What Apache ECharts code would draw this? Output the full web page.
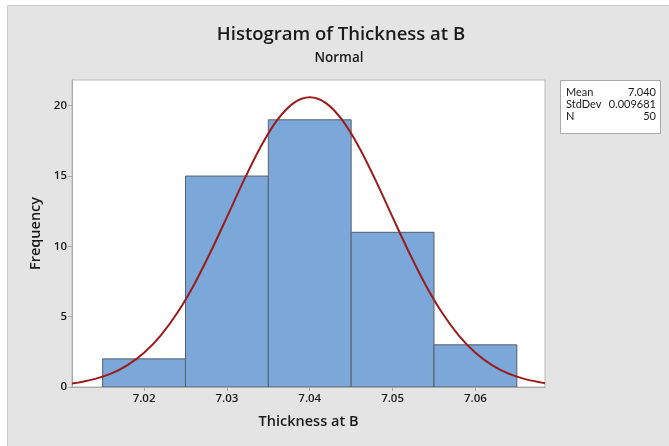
<!DOCTYPE html>
<html>
<head>
<meta charset="utf-8">
<script src="https://cdn.jsdelivr.net/npm/echarts@6/dist/echarts.min.js"></script>
<style>
html,body{margin:0;padding:0;background:#ffffff;}
#chart{width:669px;height:446px;}
</style>
</head>
<body>
<div id="chart"></div>
<script>
// ---- data ----
const binStarts = [7.015, 7.025, 7.035, 7.045, 7.055];
const binEnds   = [7.025, 7.035, 7.045, 7.055, 7.065];
const counts    = [2, 15, 19, 11, 3];

// fitted normal curve
const curveX = [7.0113, 7.012, 7.014, 7.016, 7.018, 7.020, 7.022, 7.024, 7.026, 7.028, 7.030, 7.032, 7.034, 7.036, 7.038, 7.040,
                7.042, 7.044, 7.046, 7.048, 7.050, 7.052, 7.054, 7.056, 7.058, 7.060, 7.062, 7.064, 7.066, 7.068, 7.0684];
const curveY = [0.25, 0.31, 0.56, 0.95, 1.56, 2.44, 3.66, 5.26, 7.24, 9.56, 12.08, 14.64, 17.00, 18.92, 20.17, 20.60,
                20.17, 18.92, 17.00, 14.64, 12.08, 9.56, 7.24, 5.26, 3.66, 2.44, 1.56, 0.95, 0.56, 0.31, 0.27];

const xTicks = [7.02, 7.03, 7.04, 7.05, 7.06];
const yTicks = [0, 5, 10, 15, 20];

const titleText = 'Histogram of Thickness at B';
const subtitleText = 'Normal';
const xName = 'Thickness at B';
const yName = 'Frequency';
const statLabels = ['Mean', 'StdDev', 'N'];
const statValues = ['7.040', '0.009681', '50'];

// ---- build ----
const FONT = '"Open Sans", "Noto Sans", sans-serif';
const BOXFONT = 'Lato, "Noto Sans", sans-serif';
const barData = binStarts.map((s, i) => [s, binEnds[i], counts[i]]);
const curveData = curveX.map((x, i) => [x, curveY[i]]);

const chart = echarts.init(document.getElementById('chart'), null, {renderer: 'canvas'});

const statGraphics = [
  {type: 'rect', left: 560, top: 80, z: 10,
   shape: {width: 100, height: 53},
   style: {fill: '#ffffff', stroke: '#a8a8a8', lineWidth: 1}}
];
statLabels.forEach((lab, i) => {
  statGraphics.push({type: 'text', x: 566, y: 92 + i * 12.3, z: 11,
    style: {text: lab, fill: '#1a1a1a', font: '11px ' + BOXFONT, textAlign: 'left', textVerticalAlign: 'middle'}});
  statGraphics.push({type: 'text', x: 656, y: 92 + i * 12.3, z: 11,
    style: {text: statValues[i], fill: '#1a1a1a', font: '11px ' + BOXFONT, textAlign: 'right', textVerticalAlign: 'middle'}});
});

const option = {
  backgroundColor: '#ffffff',
  animation: false,
  graphic: [
    {type: 'rect', z: -10, silent: true,
     shape: {x: 7.5, y: 5.5, width: 670, height: 450},
     style: {fill: '#e4e4e4', stroke: '#cbcbcb', lineWidth: 1}},
    {type: 'text', z: 5, x: 341, y: 35,
     style: {text: titleText, fill: '#1a1a1a', font: '600 18.5px ' + FONT, textAlign: 'center', textVerticalAlign: 'middle'}},
    {type: 'text', z: 5, x: 339, y: 58,
     style: {text: subtitleText, fill: '#1a1a1a', font: '600 13.5px ' + FONT, textAlign: 'center', textVerticalAlign: 'middle'}}
  ].concat(statGraphics),
  grid: {
    left: 72, top: 80, width: 473, height: 307,
    containLabel: false, outerBoundsMode: 'none',
    show: true, backgroundColor: '#ffffff', borderColor: '#b8b8b8', borderWidth: 1
  },
  xAxis: {
    type: 'value', min: 7.0113, max: 7.0684,
    name: xName, nameLocation: 'middle', nameGap: 27,
    nameTextStyle: {fontFamily: FONT, fontSize: 14.5, color: '#1a1a1a', fontWeight: 600},
    splitLine: {show: false},
    axisLine: {show: true, lineStyle: {color: '#a8a8a8', width: 1}},
    axisTick: {show: true, length: 4, lineStyle: {color: '#a8a8a8'}, customValues: xTicks},
    axisLabel: {customValues: xTicks, formatter: v => v.toFixed(2), fontFamily: FONT, fontSize: 11.5, fontWeight: 600, color: '#1a1a1a', margin: 6}
  },
  yAxis: {
    type: 'value', min: 0, max: 21.83,
    name: yName, nameLocation: 'middle', nameGap: 25,
    nameTextStyle: {fontFamily: FONT, fontSize: 14.5, color: '#1a1a1a', fontWeight: 600},
    splitLine: {show: false},
    axisLine: {show: true, lineStyle: {color: '#a8a8a8', width: 1}},
    axisTick: {show: true, length: 4, lineStyle: {color: '#a8a8a8'}, customValues: yTicks},
    axisLabel: {customValues: yTicks, fontFamily: FONT, fontSize: 11.5, fontWeight: 600, color: '#1a1a1a', margin: 5}
  },
  series: [
    {
      type: 'custom',
      data: barData,
      encode: {x: [0, 1], y: 2},
      clip: true,
      z: 2,
      renderItem: function (params, api) {
        const p0 = api.coord([api.value(0), api.value(2)]);
        const p1 = api.coord([api.value(1), 0]);
        return {
          type: 'rect',
          shape: {x: p0[0], y: p0[1], width: p1[0] - p0[0], height: p1[1] - p0[1]},
          style: {fill: '#7ba7d9', stroke: '#56606b', lineWidth: 1}
        };
      }
    },
    {
      type: 'line',
      data: curveData,
      smooth: 0.3,
      showSymbol: false,
      clip: true,
      z: 3,
      lineStyle: {color: '#9b1c1c', width: 2}
    }
  ]
};
chart.setOption(option);
</script>
</body>
</html>
